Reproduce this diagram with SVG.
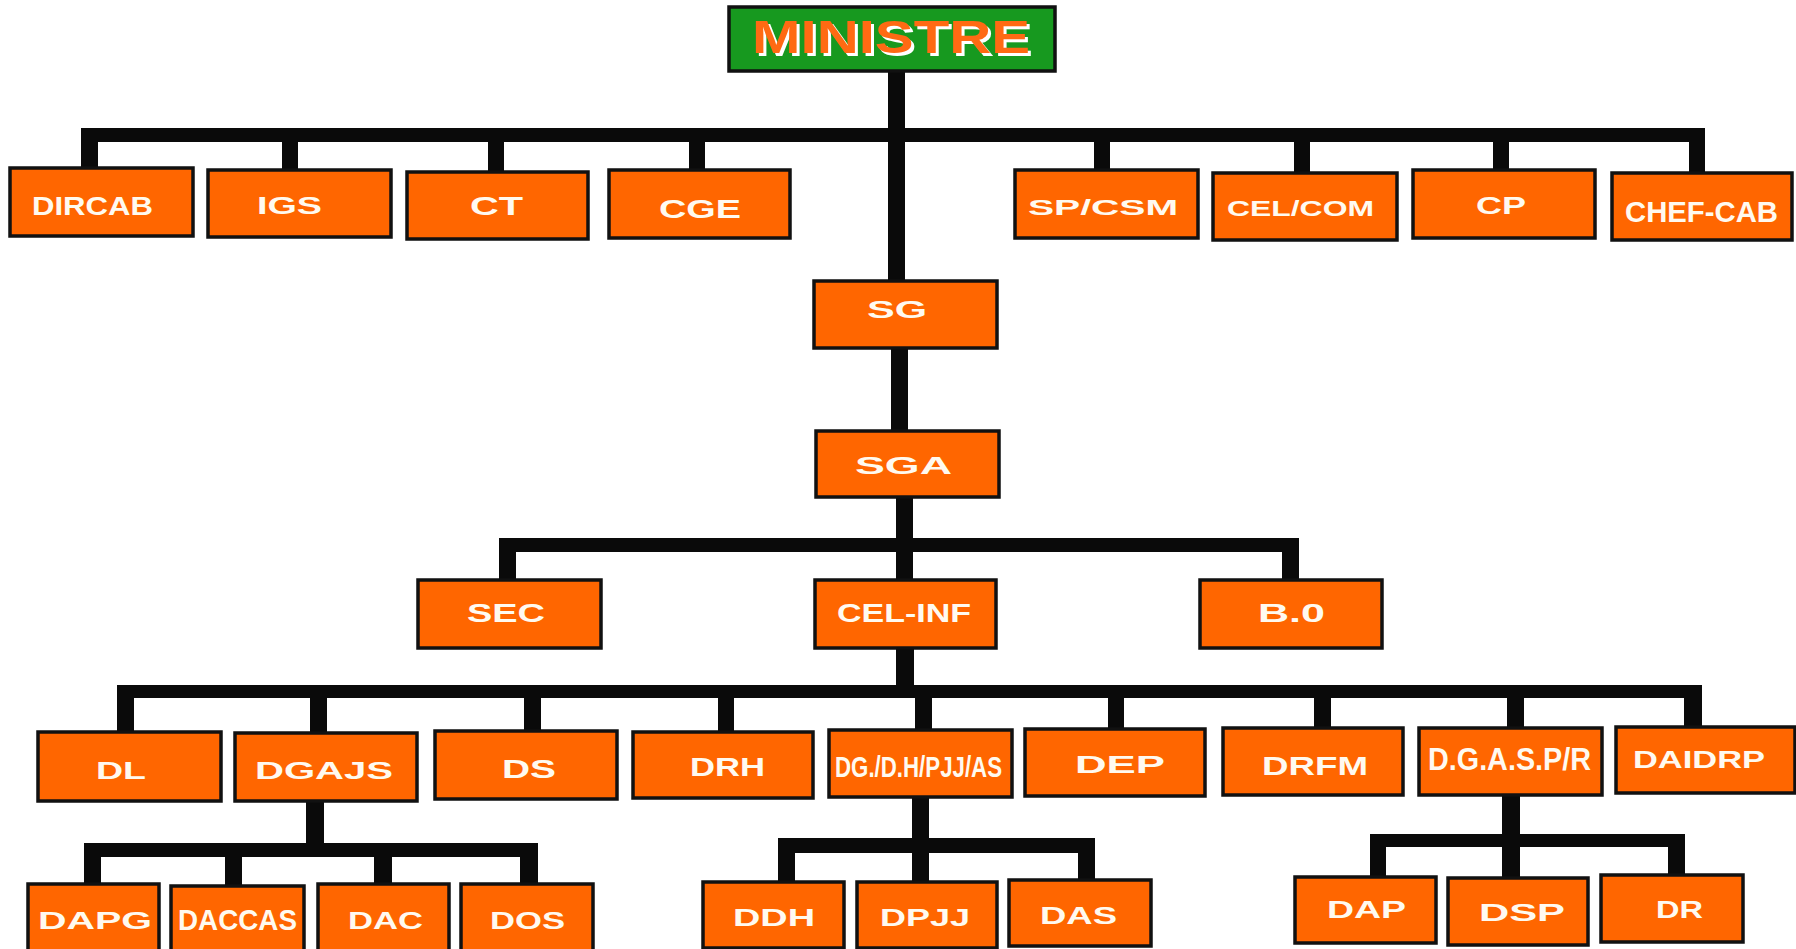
<svg xmlns="http://www.w3.org/2000/svg" width="1796" height="949" viewBox="0 0 1796 949">
<style>
.bg{fill:#ffffff}
.c{fill:#0a0a0a}
.b{fill:#ff6600;stroke:#111111;stroke-width:3.5}
.g{fill:#17991f;stroke:#111111;stroke-width:3.5}
.t{font-family:"Liberation Sans",Arial,sans-serif;font-weight:bold;fill:#fffaf0}
.m{font-family:"Liberation Sans",Arial,sans-serif;font-weight:bold;font-size:46px}
</style>
<rect class="bg" x="0" y="0" width="1796" height="949"/>
<g id="connectors">
  <rect class="c" x="888" y="70" width="17" height="213"/>
  <rect class="c" x="81" y="128" width="1624" height="14"/>
  <rect class="c" x="81" y="128" width="17" height="42"/>
  <rect class="c" x="282" y="128" width="16" height="44"/>
  <rect class="c" x="488" y="128" width="16" height="46"/>
  <rect class="c" x="689" y="128" width="16" height="44"/>
  <rect class="c" x="1094" y="128" width="16" height="44"/>
  <rect class="c" x="1294" y="128" width="16" height="47"/>
  <rect class="c" x="1493" y="128" width="16" height="44"/>
  <rect class="c" x="1689" y="128" width="16" height="47"/>
  <rect class="c" x="891" y="346" width="17" height="87"/>
  <rect class="c" x="896" y="495" width="17" height="87"/>
  <rect class="c" x="499" y="538" width="800" height="14"/>
  <rect class="c" x="499" y="538" width="17" height="44"/>
  <rect class="c" x="1282" y="538" width="17" height="44"/>
  <rect class="c" x="896" y="646" width="18" height="48"/>
  <rect class="c" x="117" y="685" width="1585" height="13"/>
  <rect class="c" x="117" y="685" width="17" height="49"/>
  <rect class="c" x="310" y="685" width="17" height="50"/>
  <rect class="c" x="524" y="685" width="17" height="48"/>
  <rect class="c" x="718" y="685" width="16" height="49"/>
  <rect class="c" x="915" y="685" width="17" height="47"/>
  <rect class="c" x="1108" y="685" width="16" height="46"/>
  <rect class="c" x="1314" y="685" width="17" height="45"/>
  <rect class="c" x="1507" y="685" width="17" height="45"/>
  <rect class="c" x="1684" y="685" width="18" height="44"/>
  <rect class="c" x="306" y="799" width="18" height="56"/>
  <rect class="c" x="85" y="843" width="453" height="14"/>
  <rect class="c" x="84" y="843" width="17" height="43"/>
  <rect class="c" x="225" y="843" width="17" height="46"/>
  <rect class="c" x="374" y="843" width="18" height="43"/>
  <rect class="c" x="520" y="843" width="18" height="43"/>
  <rect class="c" x="912" y="795" width="17" height="55"/>
  <rect class="c" x="778" y="838" width="317" height="15"/>
  <rect class="c" x="778" y="838" width="17" height="46"/>
  <rect class="c" x="912" y="838" width="17" height="46"/>
  <rect class="c" x="1078" y="838" width="17" height="44"/>
  <rect class="c" x="1502" y="793" width="18" height="52"/>
  <rect class="c" x="1370" y="834" width="315" height="13"/>
  <rect class="c" x="1370" y="834" width="16" height="45"/>
  <rect class="c" x="1502" y="834" width="18" height="46"/>
  <rect class="c" x="1668" y="834" width="17" height="43"/>
</g>
<g id="n-ministre">
  <rect class="g" x="729" y="7" width="326" height="64"/>
  <text class="m" x="755" y="56" fill="#ffffff" textLength="278" lengthAdjust="spacingAndGlyphs">MINISTRE</text>
  <text class="m" x="752" y="53" fill="#ff6a13" textLength="278" lengthAdjust="spacingAndGlyphs">MINISTRE</text>
</g>
<g id="n-dircab"><rect class="b" x="10" y="168" width="183" height="68"/><text class="t" x="32" y="215" font-size="26" textLength="121" lengthAdjust="spacingAndGlyphs">DIRCAB</text></g>
<g id="n-igs"><rect class="b" x="208" y="170" width="183" height="67"/><text class="t" x="257" y="214" font-size="23" textLength="65" lengthAdjust="spacingAndGlyphs">IGS</text></g>
<g id="n-ct"><rect class="b" x="407" y="172" width="181" height="67"/><text class="t" x="470" y="215" font-size="25" textLength="53" lengthAdjust="spacingAndGlyphs">CT</text></g>
<g id="n-cge"><rect class="b" x="609" y="170" width="181" height="68"/><text class="t" x="659" y="218" font-size="25" textLength="82" lengthAdjust="spacingAndGlyphs">CGE</text></g>
<g id="n-spcsm"><rect class="b" x="1015" y="170" width="183" height="68"/><text class="t" x="1028" y="215" font-size="22" textLength="150" lengthAdjust="spacingAndGlyphs">SP/CSM</text></g>
<g id="n-celcom"><rect class="b" x="1213" y="173" width="184" height="67"/><text class="t" x="1227" y="216" font-size="22" textLength="147" lengthAdjust="spacingAndGlyphs">CEL/COM</text></g>
<g id="n-cp"><rect class="b" x="1413" y="170" width="182" height="68"/><text class="t" x="1476" y="214" font-size="24" textLength="50" lengthAdjust="spacingAndGlyphs">CP</text></g>
<g id="n-chefcab"><rect class="b" x="1612" y="173" width="180" height="67"/><text class="t" x="1625" y="222" font-size="29" textLength="153" lengthAdjust="spacingAndGlyphs">CHEF-CAB</text></g>
<g id="n-sg"><rect class="b" x="814" y="281" width="183" height="67"/><text class="t" x="867" y="318" font-size="23" textLength="60" lengthAdjust="spacingAndGlyphs">SG</text></g>
<g id="n-sga"><rect class="b" x="816" y="431" width="183" height="66"/><text class="t" x="855" y="474" font-size="23" textLength="97" lengthAdjust="spacingAndGlyphs">SGA</text></g>
<g id="n-sec"><rect class="b" x="418" y="580" width="183" height="68"/><text class="t" x="467" y="622" font-size="25" textLength="78" lengthAdjust="spacingAndGlyphs">SEC</text></g>
<g id="n-celinf"><rect class="b" x="815" y="580" width="181" height="68"/><text class="t" x="837" y="622" font-size="26" textLength="134" lengthAdjust="spacingAndGlyphs">CEL-INF</text></g>
<g id="n-bo"><rect class="b" x="1200" y="580" width="182" height="68"/><text class="t" x="1258" y="622" font-size="26" textLength="67" lengthAdjust="spacingAndGlyphs">B.0</text></g>
<g id="n-dl"><rect class="b" x="38" y="732" width="183" height="69"/><text class="t" x="96" y="779" font-size="24" textLength="50" lengthAdjust="spacingAndGlyphs">DL</text></g>
<g id="n-dgajs"><rect class="b" x="235" y="733" width="182" height="68"/><text class="t" x="255" y="779" font-size="24" textLength="138" lengthAdjust="spacingAndGlyphs">DGAJS</text></g>
<g id="n-ds"><rect class="b" x="435" y="731" width="182" height="68"/><text class="t" x="502" y="778" font-size="25" textLength="54" lengthAdjust="spacingAndGlyphs">DS</text></g>
<g id="n-drh"><rect class="b" x="633" y="732" width="180" height="66"/><text class="t" x="690" y="776" font-size="25" textLength="75" lengthAdjust="spacingAndGlyphs">DRH</text></g>
<g id="n-dgdh"><rect class="b" x="829" y="730" width="183" height="67"/><text class="t" x="835" y="777" font-size="30" textLength="167" lengthAdjust="spacingAndGlyphs">DG./D.H/PJJ/AS</text></g>
<g id="n-dep"><rect class="b" x="1025" y="729" width="180" height="67"/><text class="t" x="1075" y="773" font-size="24" textLength="90" lengthAdjust="spacingAndGlyphs">DEP</text></g>
<g id="n-drfm"><rect class="b" x="1223" y="728" width="180" height="67"/><text class="t" x="1262" y="775" font-size="25" textLength="106" lengthAdjust="spacingAndGlyphs">DRFM</text></g>
<g id="n-dgaspr"><rect class="b" x="1419" y="728" width="183" height="67"/><text class="t" x="1428" y="770" font-size="31" textLength="163" lengthAdjust="spacingAndGlyphs">D.G.A.S.P/R</text></g>
<g id="n-daidrp"><rect class="b" x="1616" y="727" width="179" height="66"/><text class="t" x="1633" y="768" font-size="23" textLength="132" lengthAdjust="spacingAndGlyphs">DAIDRP</text></g>
<g id="n-dapg"><rect class="b" x="28" y="884" width="131" height="72"/><text class="t" x="38" y="929" font-size="24" textLength="114" lengthAdjust="spacingAndGlyphs">DAPG</text></g>
<g id="n-daccas"><rect class="b" x="171" y="886" width="133" height="70"/><text class="t" x="178" y="930" font-size="30" textLength="119" lengthAdjust="spacingAndGlyphs">DACCAS</text></g>
<g id="n-dac"><rect class="b" x="318" y="884" width="131" height="72"/><text class="t" x="348" y="929" font-size="24" textLength="75" lengthAdjust="spacingAndGlyphs">DAC</text></g>
<g id="n-dos"><rect class="b" x="461" y="884" width="132" height="72"/><text class="t" x="490" y="929" font-size="24" textLength="75" lengthAdjust="spacingAndGlyphs">DOS</text></g>
<g id="n-ddh"><rect class="b" x="703" y="882" width="141" height="66"/><text class="t" x="733" y="926" font-size="24" textLength="82" lengthAdjust="spacingAndGlyphs">DDH</text></g>
<g id="n-dpjj"><rect class="b" x="857" y="882" width="140" height="66"/><text class="t" x="880" y="926" font-size="23" textLength="90" lengthAdjust="spacingAndGlyphs">DPJJ</text></g>
<g id="n-das"><rect class="b" x="1009" y="880" width="142" height="66"/><text class="t" x="1040" y="924" font-size="24" textLength="77" lengthAdjust="spacingAndGlyphs">DAS</text></g>
<g id="n-dap"><rect class="b" x="1295" y="877" width="141" height="66"/><text class="t" x="1327" y="918" font-size="23" textLength="79" lengthAdjust="spacingAndGlyphs">DAP</text></g>
<g id="n-dsp"><rect class="b" x="1448" y="878" width="140" height="67"/><text class="t" x="1479" y="921" font-size="24" textLength="86" lengthAdjust="spacingAndGlyphs">DSP</text></g>
<g id="n-dr"><rect class="b" x="1601" y="875" width="142" height="67"/><text class="t" x="1656" y="918" font-size="23" textLength="47" lengthAdjust="spacingAndGlyphs">DR</text></g>
</svg>
